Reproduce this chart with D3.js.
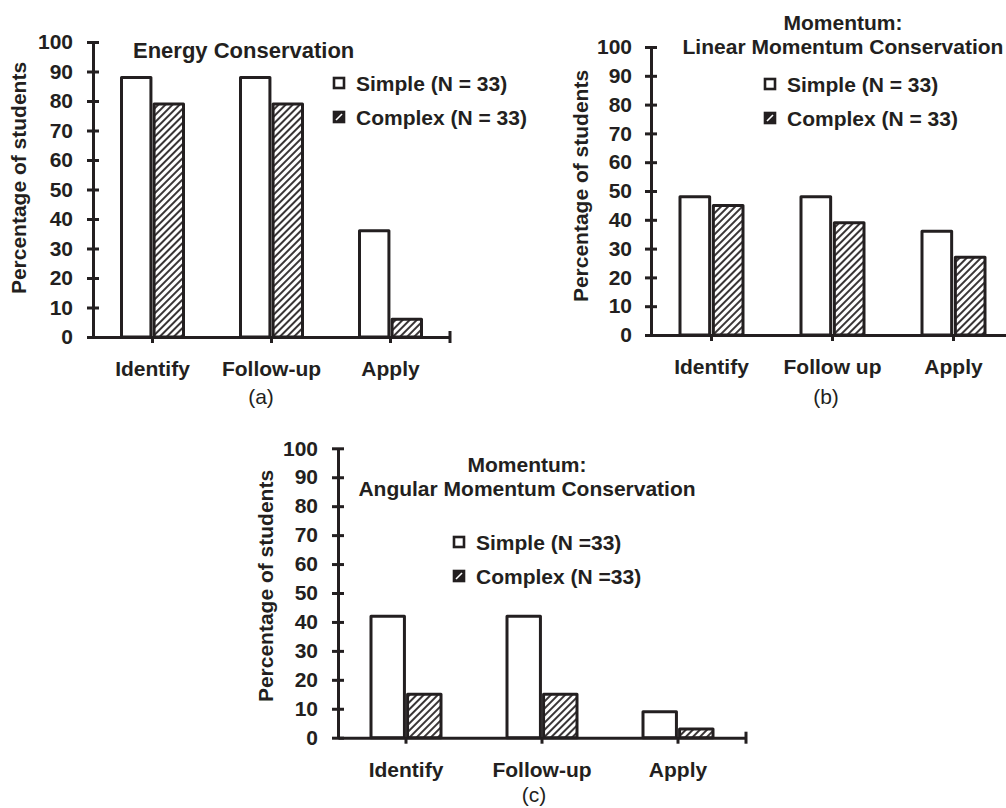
<!DOCTYPE html>
<html>
<head>
<meta charset="utf-8">
<script src="https://cdn.jsdelivr.net/npm/d3@7"></script>
<style>
  body { margin: 0; background: #fff; }
  text { font-family: "Liberation Sans", Arial, sans-serif; fill: #231f20; }
</style>
</head>
<body>
<div id="chart"></div>
<script>
var svgWidth = 1006;
var svgHeight = 808;
var ink = "#231f20";

// data
var series = ["Simple", "Complex"];
var categoriesA = ["Identify", "Follow-up", "Apply"];
var categoriesB = ["Identify", "Follow up", "Apply"];
var categoriesC = ["Identify", "Follow-up", "Apply"];
var simpleA = [88, 88, 36];
var complexA = [79, 79, 6];
var simpleB = [48, 48, 36];
var complexB = [45, 39, 27];
var simpleC = [42, 42, 9];
var complexC = [15, 15, 3];
var yTicks = [0, 10, 20, 30, 40, 50, 60, 70, 80, 90, 100];
var legendA = ["Simple (N = 33)", "Complex (N = 33)"];
var legendB = ["Simple (N = 33)", "Complex (N = 33)"];
var legendC = ["Simple (N =33)", "Complex (N =33)"];

var svg = d3.select("#chart")
  .append("svg")
  .attr("width", svgWidth)
  .attr("height", svgHeight);

svg.append("rect")
  .attr("width", svgWidth)
  .attr("height", svgHeight)
  .attr("fill", "#fff");

// hatch pattern for the complex bars
var pattern = svg.append("defs")
  .append("pattern")
  .attr("id", "hatch")
  .attr("patternUnits", "userSpaceOnUse")
  .attr("width", 5)
  .attr("height", 5)
  .attr("patternTransform", "rotate(45)");

pattern.append("rect")
  .attr("width", 5)
  .attr("height", 5)
  .attr("fill", "#fff");

pattern.append("line")
  .attr("x1", 1)
  .attr("y1", 0)
  .attr("x2", 1)
  .attr("y2", 5)
  .attr("stroke", ink)
  .attr("stroke-width", 1.8);

// one panel of grouped bars
function drawPanel(p) {
  var g = svg.append("g");

  var xScale = d3.scaleBand()
    .domain(p.categories)
    .range([p.x0, p.x1]);

  var yScale = d3.scaleLinear()
    .domain([0, 100])
    .range([p.yBottom, p.yTop]);

  var rows = p.categories.map(function(c, i) {
    return { cat: c, Simple: p.simple[i], Complex: p.complex[i] };
  });

  // bars
  var half = p.barWidth + p.gap / 2;
  rows.forEach(function(d) {
    var center = xScale(d.cat) + xScale.bandwidth() / 2;
    var inner = d3.scaleBand()
      .domain(series)
      .range([center - half, center + half])
      .paddingInner(p.gap / (2 * half));

    g.selectAll(null)
      .data(series)
      .enter()
      .append("rect")
      .attr("x", s => inner(s))
      .attr("y", s => yScale(d[s]))
      .attr("width", inner.bandwidth())
      .attr("height", s => yScale(0) - yScale(d[s]))
      .attr("fill", s => s === "Simple" ? "#fff" : "url(#hatch)")
      .attr("stroke", ink)
      .attr("stroke-width", 3)
      .attr("stroke-linejoin", "round");
  });

  // y axis, ticks cross the line
  var leftAxis = d3.axisLeft(yScale)
    .tickValues(yTicks)
    .tickSizeInner(6)
    .tickSizeOuter(0)
    .tickPadding(p.tickPad);

  var yAxis = g.append("g")
    .attr("transform", `translate(${p.x0}, 0)`)
    .call(leftAxis);

  yAxis.select(".domain")
    .attr("stroke", ink)
    .attr("stroke-width", 3);
  yAxis.selectAll(".tick line")
    .attr("x1", -6)
    .attr("x2", 6)
    .attr("stroke", ink)
    .attr("stroke-width", 3);
  yAxis.selectAll(".tick text")
    .attr("font-size", 21)
    .attr("font-weight", "bold")
    .attr("font-family", "Liberation Sans, Arial, sans-serif")
    .attr("fill", ink);

  // x axis, ticks at category centres pointing down
  var bottomAxis = d3.axisBottom(xScale)
    .tickSizeInner(6)
    .tickSizeOuter(0)
    .tickPadding(p.catPad);

  var xAxis = g.append("g")
    .attr("transform", `translate(0, ${p.yBottom})`)
    .call(bottomAxis);

  xAxis.select(".domain")
    .attr("stroke", ink)
    .attr("stroke-width", 3);
  xAxis.selectAll(".tick line")
    .attr("stroke", ink)
    .attr("stroke-width", 3);
  xAxis.selectAll(".tick text")
    .attr("font-size", 21)
    .attr("font-weight", "bold")
    .attr("font-family", "Liberation Sans, Arial, sans-serif")
    .attr("fill", ink);

  // end tick at right of x axis
  xAxis.append("line")
    .attr("x1", p.x1)
    .attr("x2", p.x1)
    .attr("y1", -6)
    .attr("y2", 6)
    .attr("stroke", ink)
    .attr("stroke-width", 3);

  // y label
  g.append("text")
    .attr("transform", `translate(${p.labelX}, ${p.labelY}) rotate(-90)`)
    .attr("text-anchor", "middle")
    .attr("font-size", 21)
    .attr("font-weight", "bold")
    .text("Percentage of students");

  // title lines
  p.title.forEach(function(t, i) {
    g.append("text")
      .attr("x", p.titleX)
      .attr("y", p.titleY + i * 24)
      .attr("text-anchor", p.titleAnchor)
      .attr("font-size", p.titleSize)
      .attr("font-weight", "bold")
      .text(t);
  });

  // legend
  p.legend.forEach(function(t, i) {
    var cy = p.legendY + i * 34;
    g.append("rect")
      .attr("x", p.legendX + 1)
      .attr("y", cy - 5)
      .attr("width", 10)
      .attr("height", 10)
      .attr("fill", i === 0 ? "#fff" : ink)
      .attr("stroke", ink)
      .attr("stroke-width", 2.6);
    if (i === 1) {
      g.append("line")
        .attr("x1", p.legendX + 3)
        .attr("y1", cy + 3)
        .attr("x2", p.legendX + 9)
        .attr("y2", cy - 3)
        .attr("stroke", "#fff")
        .attr("stroke-width", 1.6);
    }
    g.append("text")
      .attr("x", p.legendX + 23)
      .attr("y", cy)
      .attr("dy", "0.36em")
      .attr("font-size", 21)
      .attr("font-weight", "bold")
      .text(t);
  });

  // panel tag
  g.append("text")
    .attr("x", p.tagX)
    .attr("y", p.tagY)
    .attr("text-anchor", "middle")
    .attr("font-size", 21)
    .text(p.tag);
}

drawPanel({
  categories: categoriesA, simple: simpleA, complex: complexA,
  x0: 93, x1: 450, yBottom: 337, yTop: 42,
  barWidth: 28, gap: 6, tickPad: 14, catPad: 18,
  labelX: 26, labelY: 178,
  title: ["Energy Conservation"], titleX: 133, titleY: 58, titleAnchor: "start", titleSize: 22,
  legend: legendA, legendX: 333, legendY: 83,
  tag: "(a)", tagX: 261, tagY: 404
});

drawPanel({
  categories: categoriesB, simple: simpleB, complex: complexB,
  x0: 651, x1: 1014, yBottom: 335, yTop: 47,
  barWidth: 28, gap: 7, tickPad: 13, catPad: 18,
  labelX: 588, labelY: 186,
  title: ["Momentum:", "Linear Momentum Conservation"], titleX: 843, titleY: 30, titleAnchor: "middle", titleSize: 21,
  legend: legendB, legendX: 764, legendY: 84,
  tag: "(b)", tagX: 826, tagY: 404
});

drawPanel({
  categories: categoriesC, simple: simpleC, complex: complexC,
  x0: 338, x1: 746, yBottom: 737.7, yTop: 448.3,
  barWidth: 32, gap: 6, tickPad: 14, catPad: 18,
  labelX: 273, labelY: 586,
  title: ["Momentum:", "Angular Momentum Conservation"], titleX: 527, titleY: 472, titleAnchor: "middle", titleSize: 21,
  legend: legendC, legendX: 453, legendY: 542,
  tag: "(c)", tagX: 534, tagY: 802
});
</script>
</body>
</html>
